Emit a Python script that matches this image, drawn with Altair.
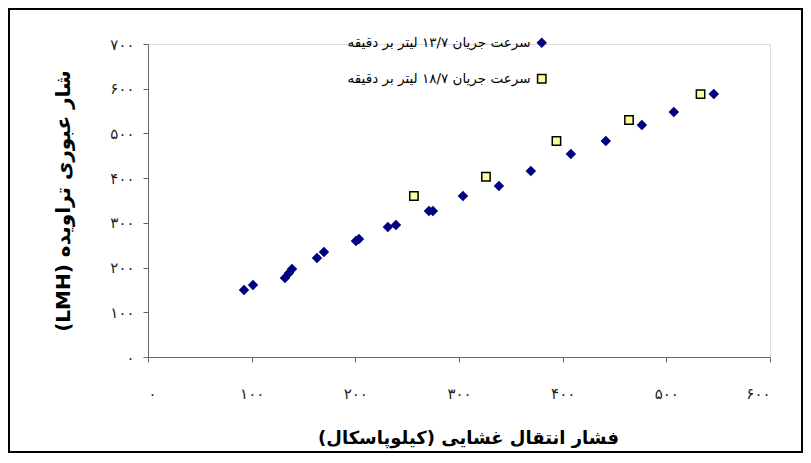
import json
import altair as alt
import pandas as pd

# ---- data ----
s1_name = "سرعت جریان ۱۳/۷ لیتر بر دقیقه"
s2_name = "سرعت جریان ۱۸/۷ لیتر بر دقیقه"

s1_x = [92.6, 101.3, 132.1, 136.0, 138.9, 163.0, 169.7, 200.6, 203.5, 231.4, 239.2,
        271.0, 274.8, 303.8, 338.5, 369.3, 407.9, 441.6, 476.4, 507.2, 545.8]
s1_y = [149.9, 161.1, 176.7, 187.9, 196.9, 221.5, 234.9, 259.5, 264.0, 290.8, 295.3,
        326.6, 326.6, 360.2, 382.6, 416.1, 454.1, 483.2, 519.0, 548.1, 588.4]

s2_x = [256.5, 326.0, 394.0, 464.0, 533.0]
s2_y = [360.0, 403.0, 483.0, 530.0, 588.0]

x_ticks = [0, 100, 200, 300, 400, 500, 600]
x_labels = ["۰", "۱۰۰", "۲۰۰", "۳۰۰", "۴۰۰", "۵۰۰", "۶۰۰"]
y_ticks = [0, 100, 200, 300, 400, 500, 600, 700]
y_labels = ["۰", "۱۰۰", "۲۰۰", "۳۰۰", "۴۰۰", "۵۰۰", "۶۰۰", "۷۰۰"]

x_title = "فشار انتقال غشایی (کیلوپاسکال)" + "\u200f"
y_title = "\u202bشار عبوری تراویده (LMH)\u202c"

FONT = "DejaVu Sans"

df = pd.DataFrame({
    "x": s1_x + s2_x,
    "y": s1_y + s2_y,
    "series": [s1_name] * len(s1_x) + [s2_name] * len(s2_x),
})


def label_expr(ticks, labels):
    return "{}[indexof({}, datum.value)]".format(
        json.dumps(labels, ensure_ascii=False), json.dumps(ticks))


legend = alt.Legend(
    title=None, orient="none", legendX=387, legendY=-8,
    labelAlign="right", labelOffset={"expr": "-18"}, rowPadding=21,
    labelFont=FONT, labelFontSize=13.5, labelColor="#000", labelLimit=400,
    symbolSize=70, symbolStrokeWidth=1.5,
)

domain = [s1_name, s2_name]

points = alt.Chart(df).mark_point(filled=True, size=70, opacity=1, strokeWidth=1.5).encode(
    x=alt.X("x:Q", scale=alt.Scale(domain=[0, 600], nice=False),
            axis=alt.Axis(values=x_ticks, labelExpr=label_expr(x_ticks, x_labels),
                          title=x_title, grid=False, tickSize=5, labelPadding=24,
                          titlePadding=28, titleX=320, labelFont=FONT, labelFontSize=15,
                          labelColor="#222", titleFont=FONT, titleFontSize=18,
                          titleFontWeight="bold", titleColor="#000",
                          domainColor="#666", tickColor="#666")),
    y=alt.Y("y:Q", scale=alt.Scale(domain=[0, 700], nice=False),
            axis=alt.Axis(values=y_ticks, labelExpr=label_expr(y_ticks, y_labels),
                          title=y_title, grid=False, tickSize=5, labelPadding=9,
                          titlePadding=36, labelFont=FONT, labelFontSize=15,
                          labelColor="#222", titleFont=FONT, titleFontSize=20,
                          titleFontWeight="bold", titleColor="#000",
                          domainColor="#666", tickColor="#666")),
    fill=alt.Fill("series:N", scale=alt.Scale(domain=domain, range=["#000080", "#FFFF99"]),
                  legend=legend),
    stroke=alt.Stroke("series:N", scale=alt.Scale(domain=domain, range=["#000080", "#000000"]),
                      legend=legend),
    shape=alt.Shape("series:N", scale=alt.Scale(domain=domain, range=["diamond", "square"]),
                    legend=legend),
)

frame = alt.Chart(pd.DataFrame({"k": [0]})).mark_rect(
    filled=False, stroke="#000", strokeWidth=2
).encode(
    x=alt.value(-139), x2=alt.value(654), y=alt.value(-35), y2=alt.value(408)
)

chart = alt.layer(points, frame).properties(
    width=622, height=313,
    padding={"left": 140, "top": 36, "right": 33, "bottom": 96},
    autosize=alt.AutoSizeParams(type="none"),
).configure_view(strokeWidth=0).configure(background="white")

chart.save("out.html", embed_options={"renderer": "svg", "actions": False})
